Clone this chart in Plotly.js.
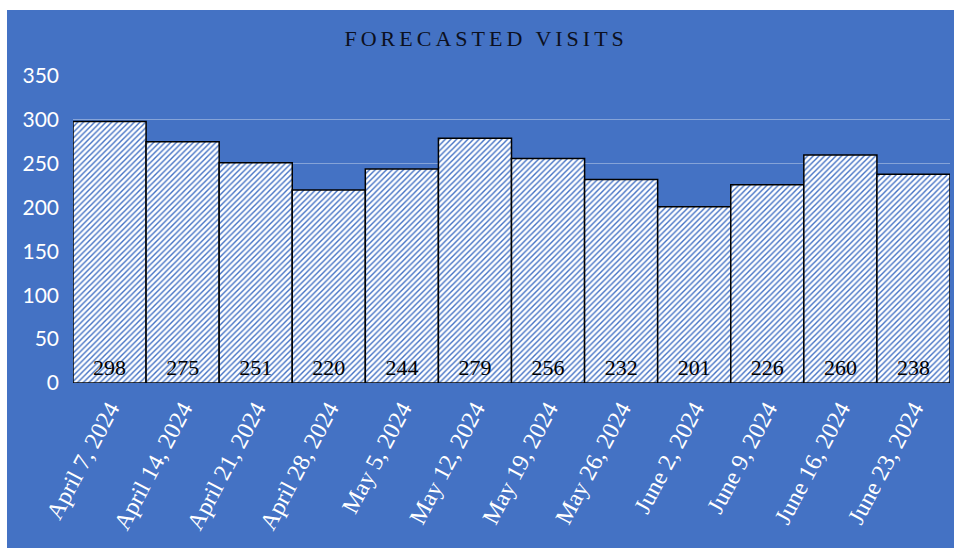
<!DOCTYPE html>
<html>
<head>
<meta charset="utf-8">
<script src="https://cdn.plot.ly/plotly-3.0.1.min.js"></script>
<style>
  html, body { margin: 0; padding: 0; background: #ffffff; }
  #chart { position: absolute; left: 7px; top: 10px; width: 947px; height: 538px; }
</style>
</head>
<body>
<div id="chart"></div>
<script>
const weeks = ["April 7, 2024", "April 14, 2024", "April 21, 2024", "April 28, 2024",
  "May 5, 2024", "May 12, 2024", "May 19, 2024", "May 26, 2024",
  "June 2, 2024", "June 9, 2024", "June 16, 2024", "June 23, 2024"];
const visits = [298, 275, 251, 220, 244, 279, 256, 232, 201, 226, 260, 238];
const yTicks = [0, 50, 100, 150, 200, 250, 300, 350];
const chartTitle = "FORECASTED VISITS";

const BLUE = "#4472C4";
const SERIF = "Liberation Serif, Times New Roman, serif";

const trace = {
  type: "bar",
  x: weeks,
  y: visits,
  text: visits.map(String),
  textposition: "inside",
  insidetextanchor: "start",
  textangle: 0,
  textfont: { family: SERIF, size: 22, color: "#000000" },
  constraintext: "none",
  marker: {
    color: "#ffffff",
    line: { color: "#000000", width: 1.5 },
    pattern: { shape: "/", fgcolor: BLUE, bgcolor: "#ffffff", size: 4, solidity: 0.35, fillmode: "replace" }
  },
  hoverinfo: "x+y"
};

const layout = {
  width: 947,
  height: 538,
  paper_bgcolor: BLUE,
  plot_bgcolor: BLUE,
  margin: { l: 66, r: 4, t: 66, b: 165 },
  bargap: 0,
  showlegend: false,
  title: {
    text: chartTitle,
    font: { family: SERIF, size: 22, color: "#0c1020" },
    xref: "container", x: 0.506, xanchor: "center",
    yref: "container", y: 0.9465, yanchor: "middle"
  },
  xaxis: {
    type: "category",
    tickangle: -62,
    tickfont: { family: SERIF, size: 24, color: "#ffffff" },
    showgrid: false,
    zeroline: false,
    showline: false,
    ticks: "",
    ticklabelstandoff: 6,
    automargin: false
  },
  yaxis: {
    range: [0, 350],
    tickvals: yTicks,
    ticktext: yTicks.map(String),
    tickfont: { family: "Lato, Open Sans, sans-serif", size: 21, color: "#ffffff" },
    showgrid: true,
    gridcolor: "rgba(255,255,255,0.35)",
    gridwidth: 1,
    zeroline: false,
    showline: false,
    ticks: "",
    ticklabelstandoff: 13,
    automargin: false
  }
};

Plotly.newPlot("chart", [trace], layout, { displayModeBar: false, staticPlot: true }).then(function () {
  document.querySelectorAll(".gtitle").forEach(function (el) {
    el.style.letterSpacing = "4px";
  });
});
</script>
</body>
</html>
